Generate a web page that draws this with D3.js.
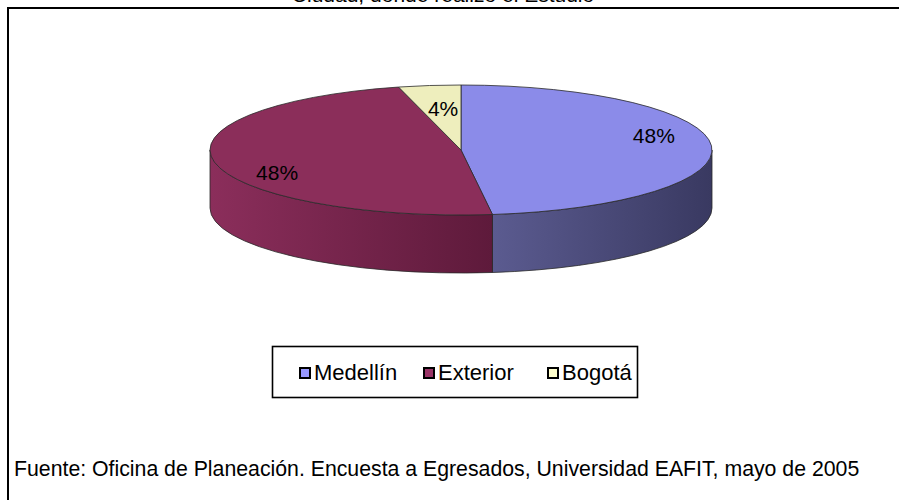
<!DOCTYPE html>
<html><head><meta charset="utf-8">
<script src="https://cdn.jsdelivr.net/npm/d3@7"></script>
<style>html,body{margin:0;padding:0;background:#fff;overflow:hidden}</style>
</head><body><svg id="c" width="899" height="500"></svg>
<script>
// ---- data ----
const categories = ["Medellín", "Exterior", "Bogotá"];
const values = [48, 48, 4];
const valueLabels = ["48%", "48%", "4%"];
const titleText = "Ciudad, donde realizó el Estudio";
const sourceText = "Fuente: Oficina de Planeación. Encuesta a Egresados, Universidad EAFIT, mayo de 2005";

// ---- styles / layout ----
const topColors = ["#8b8be9", "#8b2e5a", "#eeeebd"];
const sideLight = ["#5b5b90", "#8b2e5b", "#d6d6a6"];
const sideDark = ["#393961", "#5e1a3b", "#a2a27e"];
const legendColors = ["#9999ff", "#993366", "#ffffcc"];
const FONT = "Arial, 'Liberation Sans', sans-serif";

const svg = d3.select("#c");
const W = 899, H = 500;
svg.append("rect").attr("width", W).attr("height", H).attr("fill", "#fff");

// outer frame (extends past the picture on right and bottom)
svg.append("path").attr("d", "M8,502 V8 H902").attr("fill", "none")
  .attr("stroke", "#000").attr("stroke-width", 2);

// title (cut off at top, as in the reference)
svg.append("text").attr("x", 443).attr("y", 2).attr("text-anchor", "middle")
  .attr("font-family", FONT).attr("font-size", 21).attr("fill", "#000").text(titleText);

// ---- 3D pie ----
const cx = 461, cy = 150, rx = 251, ry = 65, depth = 58;
const arcs = d3.pie().sort(null).value(d => d)(values);
const P = (t, dy = 0) => [cx + rx * Math.sin(t), cy - ry * Math.cos(t) + dy];
const defs = svg.append("defs");
const g = svg.append("g");

// sides
arcs.forEach((a, i) => {
  const s = Math.max(a.startAngle, Math.PI / 2), e = Math.min(a.endAngle, 3 * Math.PI / 2);
  if (e <= s) return;
  const p1 = P(s), p2 = P(e), p3 = P(e, depth), p4 = P(s, depth);
  const xs = [p1[0], p2[0]];
  const id = "sg" + i;
  const lgr = defs.append("linearGradient").attr("id", id).attr("gradientUnits", "userSpaceOnUse")
    .attr("x1", d3.min(xs)).attr("x2", d3.max(xs)).attr("y1", 0).attr("y2", 0);
  lgr.append("stop").attr("offset", 0).attr("stop-color", sideLight[i]);
  lgr.append("stop").attr("offset", 1).attr("stop-color", sideDark[i]);
  const d = `M${p1} A${rx},${ry} 0 0 1 ${p2} L${p3} A${rx},${ry} 0 0 0 ${p4} Z`;
  g.append("path").attr("d", d).attr("fill", `url(#${id})`)
    .attr("stroke", "#2a2a2a").attr("stroke-width", 0.8).attr("stroke-linejoin", "round");
});

// tops
arcs.forEach((a, i) => {
  const p1 = P(a.startAngle), p2 = P(a.endAngle);
  const large = (a.endAngle - a.startAngle) > Math.PI ? 1 : 0;
  const d = `M${cx},${cy} L${p1} A${rx},${ry} 0 ${large} 1 ${p2} Z`;
  g.append("path").attr("d", d).attr("fill", topColors[i])
    .attr("stroke", "#2a2a2a").attr("stroke-width", 0.8).attr("stroke-linejoin", "round");
});

// value labels
const labelK = [0.77, 0.746, 0.6];
const labelNudge = [[0, -11], [0, 13], [1, -3]];
arcs.forEach((a, i) => {
  const m = (a.startAngle + a.endAngle) / 2;
  const x = cx + labelK[i] * rx * Math.sin(m) + labelNudge[i][0];
  const y = cy - labelK[i] * ry * Math.cos(m) + labelNudge[i][1];
  g.append("text").attr("x", x).attr("y", y).attr("dy", "0.36em")
    .attr("text-anchor", "middle").attr("font-family", FONT).attr("font-size", 21)
    .attr("fill", "#000").text(valueLabels[i]);
});

// ---- legend ----
svg.append("rect").attr("x", 272.5).attr("y", 346.5).attr("width", 365).attr("height", 51)
  .attr("fill", "#fff").attr("stroke", "#000").attr("stroke-width", 1.6);
const lx = d3.scalePoint().domain(categories).range([300, 548]);
const lg = svg.append("g");
categories.forEach((c, i) => {
  lg.append("rect").attr("x", lx(c)).attr("y", 368).attr("width", 10).attr("height", 10)
    .attr("fill", legendColors[i]).attr("stroke", "#000").attr("stroke-width", 2);
  lg.append("text").attr("x", lx(c) + 14).attr("y", 380).attr("font-family", FONT)
    .attr("font-size", 22).attr("fill", "#000").text(c);
});

// ---- source ----
const src = svg.append("text").attr("x", 14).attr("y", 476).attr("font-family", FONT)
  .attr("font-size", 19).attr("fill", "#000").text(sourceText);
const wNow = src.node().getComputedTextLength();
src.attr("font-size", 19 * 846 / wNow);
</script>
</body></html>
